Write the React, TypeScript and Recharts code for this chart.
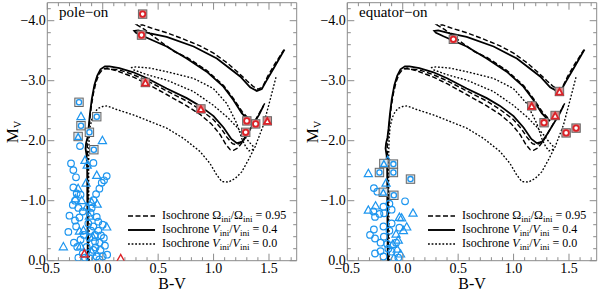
import React from 'react';
import { ScatterChart, Scatter, XAxis, YAxis } from 'recharts';

type P = [number, number];

// ---------- tick values ----------
const xTicks = [-0.5, -0.4, -0.3, -0.2, -0.1, 0.0, 0.1, 0.2, 0.3, 0.4, 0.5, 0.6, 0.7, 0.8, 0.9, 1.0, 1.1, 1.2, 1.3, 1.4, 1.5, 1.6, 1.7];
const yTicks = [-4.2, -4.0, -3.8, -3.6, -3.4, -3.2, -3.0, -2.8, -2.6, -2.4, -2.2, -2.0, -1.8, -1.6, -1.4, -1.2, -1.0, -0.8, -0.6, -0.4, -0.2, 0.0];
const xDomain: [number, number] = [-0.5, 1.75];
const yDomain: [number, number] = [-4.3, 0];

// ---------- isochrones (B-V, Mv) ----------
const iso04Main: P[] = [
  [-0.135, 0.0], [-0.137, -0.5], [-0.139, -1.0], [-0.14, -1.5], [-0.145, -1.75], [-0.155, -1.87], [-0.15, -1.96],
  [-0.138, -2.05], [-0.128, -2.2], [-0.115, -2.45], [-0.098, -2.7], [-0.075, -2.93], [-0.05, -3.08], [-0.02, -3.19],
  [0.02, -3.24], [0.06, -3.24], [0.15, -3.21], [0.277, -3.14], [0.4, -3.04], [0.577, -2.87], [0.758, -2.71],
  [0.878, -2.58], [1.0, -2.41], [1.09, -2.22], [1.16, -2.03], [1.21, -1.96], [1.255, -1.98], [1.3, -2.1],
  [1.36, -2.28], [1.41, -2.43], [1.45, -2.58],
];
const iso04Loop: P[] = [
  [1.33, -2.33], [1.3, -2.37], [1.254, -2.46], [1.179, -2.68], [1.089, -2.9], [0.938, -3.15], [0.758, -3.37],
  [0.577, -3.57], [0.367, -3.74], [0.3, -3.8], [0.285, -3.83], [0.32, -3.84], [0.427, -3.79], [0.577, -3.73],
  [0.82, -3.57], [1.03, -3.37], [1.24, -3.07], [1.33, -2.89], [1.39, -2.83], [1.435, -2.86], [1.48, -3.01],
  [1.54, -3.2], [1.64, -3.52],
];
const iso095Main: P[] = [
  [-0.128, 0.0], [-0.131, -0.5], [-0.133, -1.0], [-0.135, -1.5], [-0.138, -1.8], [-0.14, -1.95], [-0.13, -2.1],
  [-0.12, -2.3], [-0.105, -2.55], [-0.085, -2.78], [-0.06, -2.98], [-0.03, -3.12], [0.0, -3.19], [0.04, -3.21],
  [0.15, -3.15], [0.277, -3.06], [0.4, -2.95], [0.577, -2.77], [0.758, -2.58], [0.878, -2.44], [0.98, -2.28],
  [1.06, -2.1], [1.11, -1.94], [1.15, -1.85], [1.18, -1.84], [1.22, -1.88], [1.27, -2.0], [1.32, -2.16],
  [1.38, -2.35], [1.44, -2.55], [1.47, -2.65],
];
const iso095Mid: P[] = [
  [0.02, -3.2], [0.15, -3.18], [0.277, -3.1], [0.4, -3.0], [0.577, -2.83], [0.758, -2.66], [0.878, -2.52],
  [1.0, -2.35], [1.07, -2.2], [1.12, -2.06], [1.17, -1.95], [1.21, -1.93], [1.25, -1.98],
];
const iso095Loop: P[] = [
  [1.31, -2.38], [1.26, -2.48], [1.18, -2.7], [1.09, -2.92], [0.94, -3.17], [0.76, -3.39], [0.65, -3.48],
  [0.5, -3.68], [0.38, -3.85], [0.31, -3.93], [0.36, -3.93], [0.45, -3.87], [0.577, -3.8], [0.72, -3.7],
  [0.878, -3.58], [1.0, -3.46], [1.12, -3.3], [1.22, -3.14], [1.3, -3.0], [1.36, -2.9], [1.4, -2.86],
  [1.44, -2.89], [1.49, -3.08], [1.55, -3.27], [1.63, -3.5],
];
const iso00Main: P[] = [
  [-0.122, 0.0], [-0.124, -0.5], [-0.126, -1.0], [-0.127, -1.5], [-0.126, -1.85], [-0.122, -2.05], [-0.114, -2.23],
  [-0.095, -2.38], [-0.07, -2.48], [-0.04, -2.54], [0.0, -2.57], [0.04, -2.58], [0.126, -2.52], [0.277, -2.43],
  [0.427, -2.32], [0.577, -2.21], [0.728, -2.04], [0.878, -1.82], [0.968, -1.62], [1.028, -1.43], [1.074, -1.32],
  [1.134, -1.31], [1.194, -1.37], [1.254, -1.48], [1.314, -1.68], [1.375, -1.9], [1.45, -2.26], [1.51, -2.68],
  [1.565, -3.07],
];
const iso00Loop: P[] = [
  [1.36, -1.86], [1.32, -1.83], [1.29, -1.9], [1.254, -2.04], [1.209, -2.29], [1.119, -2.62], [0.998, -2.87],
  [0.818, -3.04], [0.577, -3.15], [0.427, -3.21], [0.3, -3.23], [0.262, -3.22], [0.28, -3.18], [0.4, -3.1],
  [0.577, -3.01], [0.818, -2.82], [0.998, -2.59], [1.119, -2.4], [1.209, -2.23], [1.27, -2.1], [1.32, -1.98],
  [1.36, -1.9],
];

// ---------- stars: pole-on panel ----------
const poleBlueCircle: P[] = [
  [-0.205, -1.91], [-0.286, -1.62], [-0.265, -1.51], [-0.084, -1.63], [-0.241, -1.39], [0.036, -1.41], [0.012, -1.34],
  [-0.009, -1.3], [-0.03, -1.2], [-0.06, -1.11], [-0.265, -1.22], [-0.235, -1.12], [-0.27, -0.93], [-0.25, -1.0],
  [-0.2, -1.1], [-0.084, -1.01], [-0.1, -0.88], [-0.054, -0.73], [-0.04, -0.65], [-0.11, -0.8], [-0.31, -0.48],
  [-0.25, -0.67], [-0.24, -0.57], [-0.21, -0.72], [-0.13, -0.62], [-0.085, -0.57], [-0.04, -0.5], [0.0, -0.6],
  [-0.015, -0.42], [-0.17, -0.43], [-0.12, -0.38], [-0.07, -0.32], [-0.03, -0.3], [0.01, -0.38], [-0.23, -0.23],
  [-0.18, -0.12], [-0.145, -0.23], [-0.085, -0.18], [-0.055, -0.07], [0.0, -0.07], [0.04, -0.1], [-0.22, -0.05],
  [-0.12, -0.04], [-0.03, -0.02], [-0.2, -0.35], [-0.26, -0.3], [-0.105, -0.5], [-0.065, -0.22], [-0.16, -0.05],
  [-0.02, -0.18], [0.02, -0.25], [-0.07, -0.43], [-0.18, -0.82], [-0.3, -0.75], [-0.22, -0.88],
];
const poleBlueTri: P[] = [
  [-0.196, -2.41], [-0.003, -2.01], [-0.16, -1.68], [-0.14, -1.6], [-0.054, -1.43], [-0.222, -1.21], [-0.247, -1.04],
  [-0.19, -1.01], [-0.1, -0.98], [-0.144, -0.9], [0.036, -0.57], [-0.174, -0.51], [-0.21, -0.5], [-0.355, -0.24],
  [-0.15, -1.3], [-0.12, -0.75], [-0.05, -0.95], [-0.09, -0.4], [-0.2, -0.25], [-0.1, -0.15],
];
const poleBlueBoxCircle: P[] = [[-0.214, -2.64], [-0.196, -2.25], [-0.054, -2.4], [-0.12, -2.14], [-0.08, -1.85]];
const poleBlueBoxTri: P[] = [[-0.222, -2.07]];
const poleRedBoxCircle: P[] = [[0.36, -4.11], [0.35, -3.76], [1.3, -2.33], [1.29, -2.14], [1.38, -2.28]];
const poleRedBoxTri: P[] = [[0.385, -2.97], [0.886, -2.53], [1.485, -2.33]];
const poleRedTri: P[] = [[0.162, -0.04], [-0.165, -0.12]];

// ---------- stars: equator-on panel ----------
const eqBlueCircle: P[] = [
  [-0.26, -1.21], [-0.229, -1.15], [0.021, -0.99], [-0.265, -0.82], [-0.25, -0.73], [-0.174, -0.9], [-0.168, -0.79],
  [-0.21, -0.78], [-0.174, -0.57], [-0.295, -0.43], [-0.25, -0.37], [-0.17, -0.4], [-0.12, -0.5], [-0.1, -0.85],
  [-0.1, -0.62], [-0.25, -0.12], [-0.2, -0.16], [-0.174, -0.07], [-0.1, -0.15], [-0.06, -0.3], [-0.14, -0.28],
  [-0.2, -0.3], [-0.12, -0.95], [-0.03, -0.55], [-0.26, -0.52], [-0.13, -0.2], [-0.04, -0.05],
];
const eqBlueTri: P[] = [
  [-0.31, -1.46], [-0.135, -1.68], [-0.31, -0.85], [-0.245, -0.92], [-0.03, -0.73], [-0.01, -0.72], [0.093, -0.8],
  [0.006, -0.51], [0.036, -0.57], [-0.06, -0.45], [-0.04, -0.35], [-0.09, -0.28], [-0.05, -0.2], [-0.02, -0.12],
  [-0.08, -0.05], [-0.15, -1.3],
];
const eqBlueBoxCircle: P[] = [[-0.21, -1.47], [-0.084, -1.61], [-0.084, -1.47], [0.07, -1.36], [-0.08, -1.09]];
const eqBlueBoxTri: P[] = [[-0.17, -1.62], [-0.175, -1.14]];
const eqRedBoxCircle: P[] = [[0.457, -3.69], [1.275, -2.3], [1.474, -2.13], [1.564, -2.21]];
const eqRedBoxTri: P[] = [[1.414, -2.82], [1.375, -2.42], [1.164, -2.58]];
const eqRedTri: P[] = [];

// ---------- styles ----------
const GRAY = '#8c8c8c';
const BLUE = '#1e96ef';
const RED = '#dc2228';
const FONT = '"Liberation Serif", "DejaVu Serif", serif';

const toPts = (a: P[]) => a.map(([x, y]) => ({ x, y }));
const isMajor = (v: number, step: number) => Math.abs(v / step - Math.round(v / step)) < 1e-6;
const fmt = (v: number) => (Math.abs(v) < 1e-9 ? '0.0' : v.toFixed(1)).replace('-', '\u2212');

const BottomTick = (p: any) => {
  const { x, y, payload } = p;
  const maj = isMajor(payload.value, 0.5);
  return (
    <g>
      <line x1={x} x2={x} y1={y} y2={y - (maj ? 7 : 3.5)} stroke={GRAY} />
      {maj && (
        <text x={x} y={y + 12} textAnchor="middle" fontFamily={FONT} fontSize={14} fill="#000">
          {fmt(payload.value)}
        </text>
      )}
    </g>
  );
};
const TopTick = (p: any) => {
  const { x, y, payload } = p;
  const maj = isMajor(payload.value, 0.5);
  return <line x1={x} x2={x} y1={y} y2={y + (maj ? 7 : 3.5)} stroke={GRAY} />;
};
const LeftTick = (p: any) => {
  const { x, y, payload } = p;
  const maj = isMajor(payload.value, 1);
  return (
    <g>
      <line x1={x} x2={x + (maj ? 7 : 3.5)} y1={y} y2={y} stroke={GRAY} />
      {maj && (
        <text x={x - 1.5} y={y + 4.5} textAnchor="end" fontFamily={FONT} fontSize={14} fill="#000">
          {fmt(payload.value)}
        </text>
      )}
    </g>
  );
};
const RightTick = (p: any) => {
  const { x, y, payload } = p;
  const maj = isMajor(payload.value, 1);
  return <line x1={x} x2={x - (maj ? 7 : 3.5)} y1={y} y2={y} stroke={GRAY} />;
};

const tri = (cx: number, cy: number, s: number) =>
  `${cx},${cy - s} ${cx - s * 0.95},${cy + s * 0.7} ${cx + s * 0.95},${cy + s * 0.7}`;

const shapes: Record<string, (p: any) => React.ReactElement> = {
  none: () => <g />,
  blueCircle: ({ cx, cy }) => <circle cx={cx} cy={cy} r={3.3} fill="none" stroke={BLUE} strokeWidth={1.2} />,
  blueTri: ({ cx, cy }) => <polygon points={tri(cx, cy + 0.5, 4.3)} fill="none" stroke={BLUE} strokeWidth={1.2} />,
  blueBoxCircle: ({ cx, cy }) => (
    <g>
      <rect x={cx - 4.2} y={cy - 4.2} width={8.4} height={8.4} fill="#dce6ee" stroke="#666" strokeWidth={1} />
      <circle cx={cx} cy={cy} r={2.6} fill="#fff" stroke={BLUE} strokeWidth={1.3} />
    </g>
  ),
  blueBoxTri: ({ cx, cy }) => (
    <g>
      <rect x={cx - 4.2} y={cy - 4.2} width={8.4} height={8.4} fill="#dce6ee" stroke="#666" strokeWidth={1} />
      <polygon points={tri(cx, cy + 0.5, 3.4)} fill="#fff" stroke={BLUE} strokeWidth={1.3} />
    </g>
  ),
  redBoxCircle: ({ cx, cy }) => (
    <g>
      <rect x={cx - 4.2} y={cy - 4.2} width={8.4} height={8.4} fill="#d58f8f" stroke="#6a6a6a" strokeWidth={1} />
      <circle cx={cx} cy={cy} r={2.7} fill="#fff" stroke={RED} strokeWidth={1.8} />
    </g>
  ),
  redBoxTri: ({ cx, cy }) => (
    <g>
      <rect x={cx - 4.2} y={cy - 4.2} width={8.4} height={8.4} fill="#d58f8f" stroke="#6a6a6a" strokeWidth={1} />
      <polygon points={tri(cx, cy + 0.6, 3.5)} fill="#fff" stroke={RED} strokeWidth={1.8} />
    </g>
  ),
  redTri: ({ cx, cy }) => <polygon points={tri(cx, cy + 0.5, 4.3)} fill="none" stroke={RED} strokeWidth={1.4} />,
};

const DOT = '1.8 1.8';
const DASH = '5 2.5';
const lineSeries: { name: string; data: P[]; dash?: string; w: number }[] = [
  { name: 'd0', data: iso00Main, dash: DOT, w: 1.35 },
  { name: 'd1', data: iso00Loop, dash: DOT, w: 1.35 },
  { name: 'a0', data: iso095Main, dash: DASH, w: 1.45 },
  { name: 'a1', data: iso095Mid, dash: DASH, w: 1.45 },
  { name: 'a2', data: iso095Loop, dash: DASH, w: 1.45 },
  { name: 's0', data: iso04Main, w: 1.8 },
  { name: 's1', data: iso04Loop, w: 1.8 },
];

type Stars = { kind: string; data: P[] }[];

const subS: React.CSSProperties = { fontSize: 9, verticalAlign: '-2.5px', lineHeight: 0 };

const LegendBox = () => {
  const rows = [
    { dash: DASH, w: 1.5, label: <>Isochrone Ω<sub style={subS}>ini</sub>/Ω<sub style={subS}>ini</sub> = 0.95</> },
    { dash: undefined, w: 1.9, label: <>Isochrone <i>V</i><sub style={subS}>ini</sub>/<i>V</i><sub style={subS}>ini</sub> = 0.4</> },
    { dash: DOT, w: 1.35, label: <>Isochrone <i>V</i><sub style={subS}>ini</sub>/<i>V</i><sub style={subS}>ini</sub> = 0.0</> },
  ];
  return (
    <div style={{ position: 'absolute', left: 128, top: 208.5, fontFamily: FONT, fontSize: 12, color: '#000' }}>
      {rows.map((r, i) => (
        <div key={i} style={{ height: 14, display: 'flex', alignItems: 'center', whiteSpace: 'nowrap' }}>
          <svg width={28} height={6} style={{ marginRight: 6 }}>
            <line x1={0} x2={27} y1={3} y2={3} stroke="#000" strokeWidth={r.w} strokeDasharray={r.dash} />
          </svg>
          <span>{r.label}</span>
        </div>
      ))}
    </div>
  );
};

const Panel = ({ title, stars }: { title: string; stars: Stars }) => (
  <div style={{ position: 'relative', width: 300, height: 291 }}>
    <ScatterChart width={300} height={291} margin={{ top: 0, right: 0, bottom: 0, left: 0 }}>
      <XAxis xAxisId="b" type="number" dataKey="x" domain={xDomain} ticks={xTicks} interval={0} allowDataOverflow
        height={30.3} tickSize={0} tickMargin={0} tickLine={false} axisLine={{ stroke: GRAY }} tick={BottomTick} />
      <XAxis xAxisId="t" orientation="top" type="number" dataKey="x" domain={xDomain} ticks={xTicks} interval={0} allowDataOverflow
        height={2.7} tickSize={0} tickMargin={0} tickLine={false} axisLine={{ stroke: GRAY }} tick={TopTick} />
      <YAxis yAxisId="l" type="number" dataKey="y" domain={yDomain} reversed ticks={yTicks} interval={0} allowDataOverflow
        width={47.3} tickSize={0} tickMargin={0} tickLine={false} axisLine={{ stroke: GRAY }} tick={LeftTick} />
      <YAxis yAxisId="r" orientation="right" type="number" dataKey="y" domain={yDomain} reversed ticks={yTicks} interval={0} allowDataOverflow
        width={3.3} tickSize={0} tickMargin={0} tickLine={false} axisLine={{ stroke: GRAY }} tick={RightTick} />
      {lineSeries.map((s) => (
        <Scatter key={s.name} xAxisId="b" yAxisId="l" data={toPts(s.data)} isAnimationActive={false} fill="none"
          line={{ stroke: '#000', strokeWidth: s.w, strokeDasharray: s.dash, fill: 'none' }} lineType="joint" shape={shapes.none} />
      ))}
      {stars.map((s, i) => (
        <Scatter key={'st' + i} xAxisId="b" yAxisId="l" data={toPts(s.data)} isAnimationActive={false} shape={shapes[s.kind]} />
      ))}
    </ScatterChart>
    <div style={{ position: 'absolute', left: 59, top: 4, fontFamily: FONT, fontSize: 15, color: '#000', whiteSpace: 'nowrap' }}>{title}</div>
    <div style={{ position: 'absolute', left: 150, width: 44, textAlign: 'center', top: 277, lineHeight: '14px', fontFamily: FONT, fontSize: 16, color: '#000' }}>B-V</div>
    <div style={{ position: 'absolute', left: -9, top: 123, width: 44, lineHeight: '18px', textAlign: 'center', transform: 'rotate(-90deg)', fontFamily: FONT, fontSize: 17, color: '#000', whiteSpace: 'nowrap' }}>
      M<sub style={{ fontSize: 10, verticalAlign: '-3px', lineHeight: 0 }}>V</sub>
    </div>
    <LegendBox />
  </div>
);

const poleStars: Stars = [
  { kind: 'blueCircle', data: poleBlueCircle },
  { kind: 'blueTri', data: poleBlueTri },
  { kind: 'blueBoxCircle', data: poleBlueBoxCircle },
  { kind: 'blueBoxTri', data: poleBlueBoxTri },
  { kind: 'redTri', data: poleRedTri },
  { kind: 'redBoxCircle', data: poleRedBoxCircle },
  { kind: 'redBoxTri', data: poleRedBoxTri },
];
const eqStars: Stars = [
  { kind: 'blueCircle', data: eqBlueCircle },
  { kind: 'blueTri', data: eqBlueTri },
  { kind: 'blueBoxCircle', data: eqBlueBoxCircle },
  { kind: 'blueBoxTri', data: eqBlueBoxTri },
  { kind: 'redTri', data: eqRedTri },
  { kind: 'redBoxCircle', data: eqRedBoxCircle },
  { kind: 'redBoxTri', data: eqRedBoxTri },
];

export default function App() {
  return (
    <div style={{ position: 'absolute', left: 0, top: 0, width: 600, height: 291, display: 'flex', background: '#fff' }}>
      <Panel title={'pole\u2212on'} stars={poleStars} />
      <Panel title={'equator\u2212on'} stars={eqStars} />
    </div>
  );
}
